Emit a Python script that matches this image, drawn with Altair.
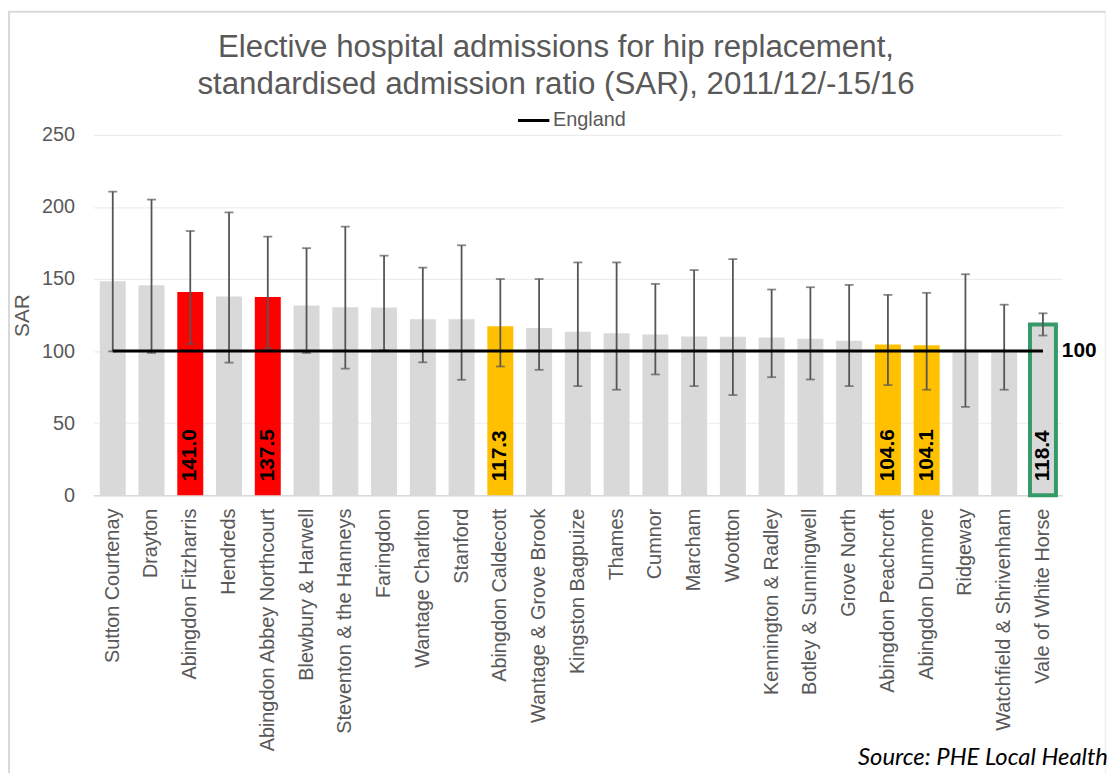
import altair as alt
import pandas as pd

areas = [
    "Sutton Courtenay", "Drayton", "Abingdon Fitzharris", "Hendreds",
    "Abingdon Abbey Northcourt", "Blewbury & Harwell", "Steventon & the Hanneys",
    "Faringdon", "Wantage Charlton", "Stanford", "Abingdon Caldecott",
    "Wantage & Grove Brook", "Kingston Bagpuize", "Thames", "Cumnor", "Marcham",
    "Wootton", "Kennington & Radley", "Botley & Sunningwell", "Grove North",
    "Abingdon Peachcroft", "Abingdon Dunmore", "Ridgeway",
    "Watchfield & Shrivenham", "Vale of White Horse",
]
sar = [148.4, 145.6, 141.0, 137.9, 137.5, 131.7, 130.4, 130.2, 122.1, 122.0,
       117.3, 116.1, 113.4, 112.4, 111.5, 110.1, 110.0, 109.4, 108.5, 107.2,
       104.6, 104.1, 99.6, 99.2, 118.4]
ci_lower = [99.8, 98.7, 104.9, 92.0, 101.9, 98.7, 87.9, 100.5, 92.2, 80.1,
            89.3, 87.0, 75.7, 73.2, 83.8, 75.7, 69.5, 81.9, 80.3, 75.7,
            76.4, 73.2, 61.3, 73.2, 110.8]
ci_upper = [210.6, 205.1, 183.3, 196.2, 179.4, 171.4, 186.3, 166.2, 157.9, 173.4,
            150.0, 150.0, 161.5, 161.5, 146.6, 156.2, 163.8, 142.7, 144.3, 145.9,
            139.0, 140.4, 153.3, 132.2, 126.2]
groups = ["similar", "similar", "higher", "similar", "higher", "similar", "similar",
          "similar", "similar", "similar", "amber", "similar", "similar", "similar",
          "similar", "similar", "similar", "similar", "similar", "similar",
          "amber", "amber", "similar", "similar", "district"]
england_value = 100
y_ticks = [0, 50, 100, 150, 200, 250]
title_lines = ["Elective hospital admissions for hip replacement,",
               "standardised admission ratio (SAR), 2011/12/-15/16"]
source_note = "Source: PHE Local Health"

df = pd.DataFrame({"area": areas, "sar": sar, "lower": ci_lower,
                   "upper": ci_upper, "group": groups})
df["england"] = england_value
df["series"] = "England"
df["label"] = [f"{v:.1f}" if g != "similar" else "" for v, g in zip(sar, groups)]

GREY_TXT = "#595959"
FONT = "Liberation Sans"

x_enc = alt.X("area:N", sort=areas,
              scale=alt.Scale(paddingInner=0.33, paddingOuter=0.165),
              axis=alt.Axis(title=None, labelAngle=270, labelFontSize=20,
                            labelColor=GREY_TXT, labelFont=FONT, labelPadding=13,
                            ticks=False, domainColor="#D9D9D9", domainWidth=1.5,
                            labelLimit=400))
yscale = alt.Scale(domain=[0, 250], nice=False, zero=True)
yaxis = alt.Axis(title="SAR", values=y_ticks, ticks=False, domain=False,
                 labelFontSize=20, labelColor=GREY_TXT, labelFont=FONT,
                 labelPadding=19, gridColor="#EDEDED", gridWidth=1.2,
                 titleFontSize=21, titleColor=GREY_TXT, titleFont=FONT,
                 titleFontWeight="normal", titlePadding=9)

base = alt.Chart(df).encode(x=x_enc)

bars = base.mark_bar().encode(
    y=alt.Y("sar:Q", scale=yscale, axis=yaxis),
    color=alt.Color("group:N",
                    scale=alt.Scale(domain=["similar", "higher", "amber", "district"],
                                    range=["#D9D9D9", "#FF0000", "#FFC000", "#D9D9D9"]),
                    legend=None),
)

outline = base.transform_filter(alt.datum.group == "district").mark_bar(
    fill="#D9D9D9", stroke="#35996A", strokeWidth=4
).encode(y=alt.Y("sar:Q", scale=yscale, axis=yaxis))

err_rule = base.mark_rule(color="#555555", strokeWidth=1.8).encode(
    y=alt.Y("lower:Q", scale=yscale, axis=yaxis), y2="upper:Q")
cap_lo = base.mark_tick(color="#555555", size=9, thickness=1.8).encode(
    y=alt.Y("lower:Q", scale=yscale, axis=yaxis))
cap_hi = base.mark_tick(color="#555555", size=9, thickness=1.8).encode(
    y=alt.Y("upper:Q", scale=yscale, axis=yaxis))

eng_line = base.mark_line(strokeWidth=3).encode(
    y=alt.Y("england:Q", scale=yscale, axis=yaxis),
    stroke=alt.Stroke("series:N",
                      scale=alt.Scale(domain=["England"], range=["#000000"]),
                      legend=alt.Legend(title=None, orient="none", legendX=426,
                                        legendY=-32, symbolType="stroke",
                                        symbolSize=1000, symbolStrokeWidth=3,
                                        labelFontSize=20, labelColor=GREY_TXT,
                                        labelFont=FONT, labelOffset=2)),
)

eng_label = base.transform_filter(alt.datum.area == areas[-1]).mark_text(
    align="left", baseline="middle", dx=19, fontSize=21, fontWeight="bold",
    font=FONT, color="#000000"
).encode(y=alt.Y("england:Q", scale=yscale, axis=yaxis),
         text=alt.Text("england:Q", format=".0f"))

val_labels = base.transform_filter(alt.datum.label != "").mark_text(
    angle=270, align="left", baseline="middle", dx=14, fontSize=21,
    fontWeight="bold", font=FONT, color="#000000"
).encode(y=alt.datum(0), text="label:N")

note_df = pd.DataFrame({"note": [source_note]})
note = alt.Chart(note_df).mark_text(
    align="right", baseline="bottom", fontSize=24, fontStyle="italic",
    font="Lato", color="#000000"
).encode(x=alt.value(1022), y=alt.value(639.5), text="note:N")

frame_df = pd.DataFrame({"k": [0]})
frame_top = alt.Chart(frame_df).mark_rule(color="#D9D9D9", strokeWidth=2).encode(
    x=alt.value(-86), x2=alt.value(1020), y=alt.value(-124))
frame_left = alt.Chart(frame_df).mark_rule(color="#D9D9D9", strokeWidth=2).encode(
    x=alt.value(-85), y=alt.value(-124), y2=alt.value(700))
frame_right = alt.Chart(frame_df).mark_rule(color="#EFEFEF", strokeWidth=1.5).encode(
    x=alt.value(1019.5), y=alt.value(-124), y2=alt.value(700))

chart = alt.layer(
    frame_top, frame_left, frame_right,
    bars, outline, err_rule, cap_lo, cap_hi, eng_line, eng_label, val_labels, note
).properties(
    width=976, height=363,
    title=alt.TitleParams(title_lines, anchor="middle", fontSize=31.5, font=FONT,
                          fontWeight="normal", color=GREY_TXT, lineHeight=37,
                          offset=-90, dx=-22),
    padding={"left": 86, "top": 125, "right": 45, "bottom": 277},
    autosize=alt.AutoSizeParams(type="none"),
).configure_view(stroke=None)

chart.save("out.html", embed_options={"renderer": "svg", "actions": False})
